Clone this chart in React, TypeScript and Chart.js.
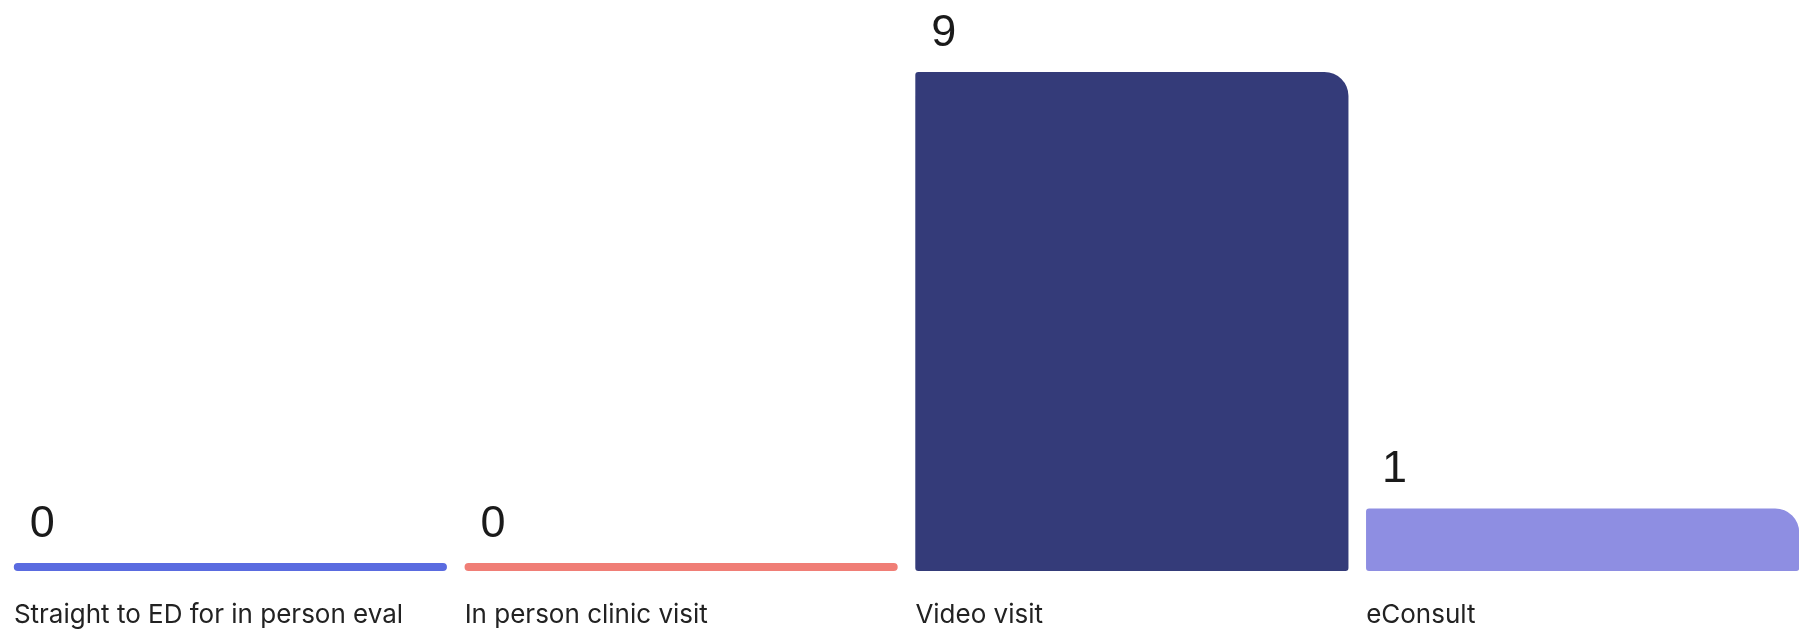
import React, { useEffect, useRef } from "react";
import { Chart, registerables } from "chart.js";

Chart.register(...registerables);

const categories = [
  "Straight to ED for in person eval",
  "In person clinic visit",
  "Video visit",
  "eConsult",
];
const counts = [0, 0, 9, 1];
const barColors = ["#5a6be0", "#f07e76", "#343b79", "#8e8ee2"];
const Y_MIN = -0.1466;
const Y_MAX = 9;

const valueLabelPlugin = {
  id: "valueLabels",
  afterDatasetsDraw(chart: any) {
    const ctx = chart.ctx;
    const meta = chart.getDatasetMeta(0);
    ctx.save();
    ctx.font = "45px 'Liberation Sans', Arial, sans-serif";
    ctx.fillStyle = "#1a1a1a";
    ctx.textAlign = "left";
    ctx.textBaseline = "alphabetic";
    meta.data.forEach((el: any, i: number) => {
      const left = el.x - el.width / 2;
      ctx.fillText(String(counts[i]), left + 16, el.y - 26.5);
    });
    ctx.restore();
  },
};

export default function App() {
  const ref = useRef<HTMLCanvasElement | null>(null);
  useEffect(() => {
    if (!ref.current) return;
    const chart = new Chart(ref.current, {
      type: "bar",
      data: {
        labels: categories,
        datasets: [
          {
            data: counts,
            base: Y_MIN,
            backgroundColor: barColors,
            borderWidth: 0,
            barPercentage: 0.961,
            categoryPercentage: 1,
            borderSkipped: false,
            borderRadius: (c: any) =>
              c.dataIndex >= 2
                ? { topLeft: 3, topRight: 24, bottomLeft: 3, bottomRight: 3 }
                : 4,
          } as any,
        ],
      },
      options: {
        animation: false,
        responsive: false,
        layout: { padding: { top: 72, left: 0, right: 0, bottom: 0 } },
        plugins: {
          legend: { display: false },
          tooltip: { enabled: false },
        },
        scales: {
          x: {
            grid: { display: false },
            border: { display: false },
            ticks: {
              align: "start",
              labelOffset: -216.5,
              padding: 21,
              color: "#222222",
              font: { family: "Inter", size: 26 },
              maxRotation: 0,
              autoSkip: false,
            },
            afterFit: (scale: any) => {
              scale.height = 59;
            },
          },
          y: {
            display: false,
            min: Y_MIN,
            max: Y_MAX,
          },
        },
      } as any,
      plugins: [valueLabelPlugin],
    });
    return () => chart.destroy();
  }, []);

  return (
    <div
      style={{
        position: "absolute",
        left: 0,
        top: 0,
        width: 1799,
        height: 630,
        overflow: "hidden",
        background: "#ffffff",
      }}
    >
      <canvas
        ref={ref}
        width={1803}
        height={630}
        style={{ position: "absolute", left: 5, top: 0, width: 1803, height: 630 }}
      />
    </div>
  );
}
